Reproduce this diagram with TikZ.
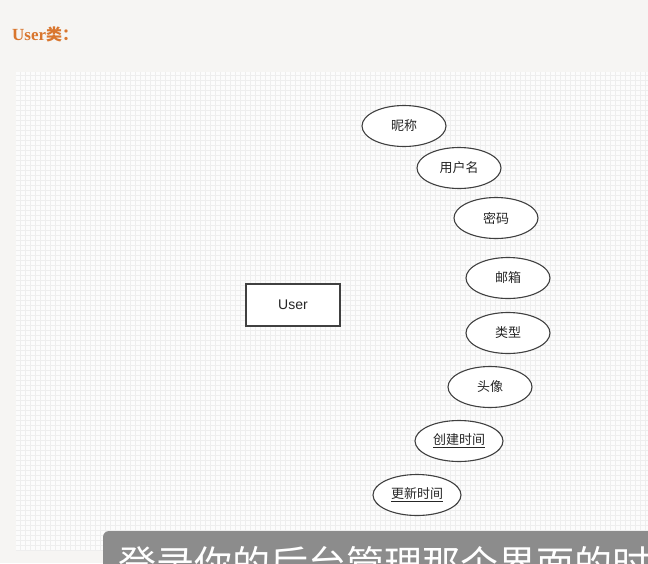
\documentclass[tikz,border=0pt]{standalone}
\usepackage{fontspec}
\setmainfont{Liberation Serif}
\setsansfont{Liberation Sans}
\newfontfamily\cjk{Noto Sans CJK SC}
\usetikzlibrary{shapes.geometric}
\definecolor{pagebg}{HTML}{F6F5F3}
\definecolor{gridbg}{HTML}{FCFCFC}
\definecolor{gridln}{HTML}{EEEEEE}
\definecolor{titleor}{HTML}{D9762E}
\definecolor{edgec}{HTML}{404040}
\definecolor{capbg}{HTML}{8C8C8C}
\tikzset{
  attr/.style={ellipse, draw=edgec, line width=1.1pt, fill=white, minimum width=84pt, minimum height=41pt, inner sep=0pt, font=\cjk\fontsize{13}{15}\selectfont, text=black!85},
  entity/.style={rectangle, draw=edgec, line width=1.1pt, fill=white, minimum width=94pt, minimum height=42pt, inner sep=0pt, font=\sffamily\fontsize{14}{16}\selectfont, text=black!85}
}
\begin{document}
\begin{tikzpicture}[x=1pt,y=-1pt]
\useasboundingbox (0,0) rectangle (648,563);
\fill[pagebg] (0,0) rectangle (648,563);
\fill[gridbg] (16,72) rectangle (648,550);
\begin{scope}
\clip (16,72) rectangle (648,550);
\draw[gridln, line width=0.4pt] (16,72) grid[step=5pt] (648,550);
\end{scope}
\node[anchor=west, text=titleor, font=\bfseries\fontsize{17}{20}\selectfont, inner sep=0pt] (title) at (12,34) {User{\cjk\fontsize{16}{20}\selectfont 类：}};
\node[entity] (user) at (293,305) {User};
\node[attr] (a1) at (404,126) {昵称};
\node[attr] (a2) at (459,168) {用户名};
\node[attr] (a3) at (496,218) {密码};
\node[attr] (a4) at (508,278) {邮箱};
\node[attr] (a5) at (508,333) {类型};
\node[attr] (a6) at (490,387) {头像};
\node[attr, minimum width=88pt] (a7) at (459,441) {\underline{创建时间}};
\node[attr, minimum width=88pt] (a8) at (417,495) {\underline{更新时间}};
\begin{scope}
\clip (0,0) rectangle (648,563);
\fill[capbg, rounded corners=6pt] (103,531) rectangle (700,620);
\node[anchor=west, text=white, font=\cjk\fontsize{38}{40}\selectfont, inner sep=0pt] (cap) at (118,564) {登录你的后台管理那个界面的时候};
\end{scope}
\end{tikzpicture}
\end{document}
